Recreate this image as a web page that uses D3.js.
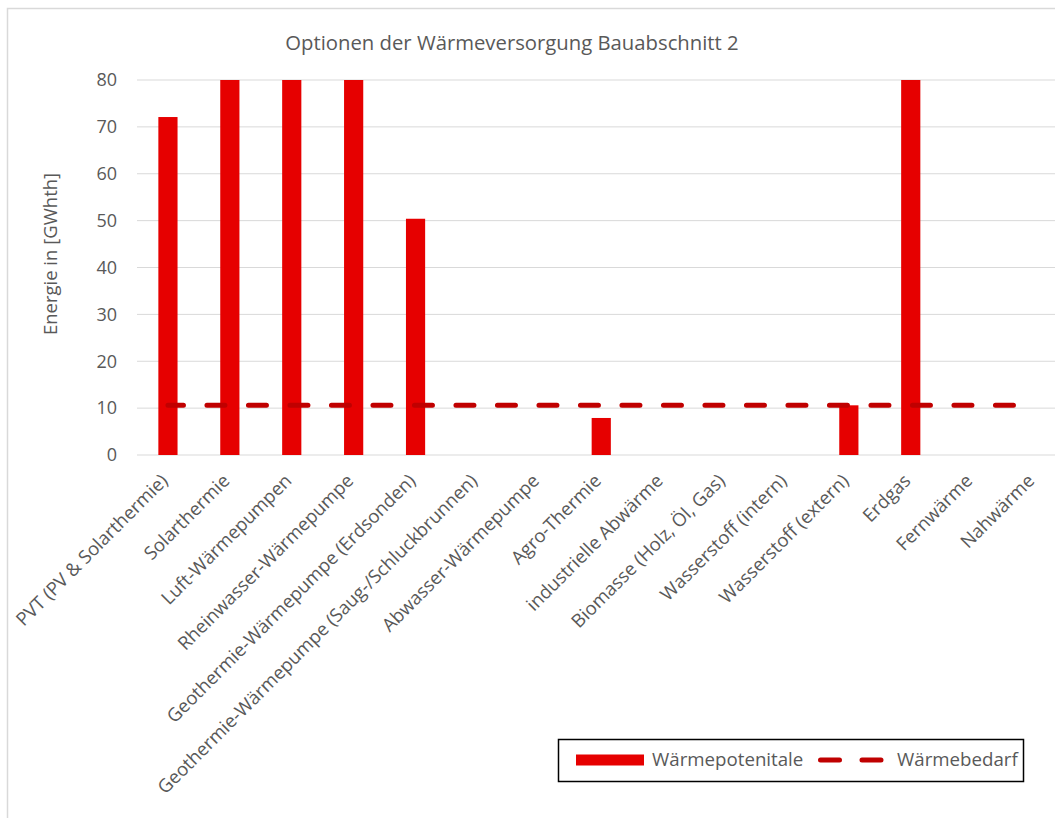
<!DOCTYPE html>
<html>
<head>
<meta charset="utf-8">
<script src="https://cdn.jsdelivr.net/npm/d3@7"></script>
<style>
  body { margin: 0; background: #fff; }
  svg { display: block; font-family: "Open Sans", sans-serif; }
</style>
</head>
<body>
<div class="chart"></div>
<script>
// Chart data
const categories = [
    'PVT (PV & Solarthermie)', 'Solarthermie', 'Luft-Wärmepumpen', 'Rheinwasser-Wärmepumpe',
    'Geothermie-Wärmepumpe (Erdsonden)', 'Geothermie-Wärmepumpe (Saug-/Schluckbrunnen)',
    'Abwasser-Wärmepumpe', 'Agro-Thermie', 'industrielle Abwärme', 'Biomasse (Holz, Öl, Gas)',
    'Wasserstoff (intern)', 'Wasserstoff (extern)', 'Erdgas', 'Fernwärme', 'Nahwärme'
];
const potentials = [72.1, 80, 80, 80, 50.4, 0, 0, 7.9, 0, 0, 0, 10.6, 80, 0, 0];
const demand = [10.6, 10.6, 10.6, 10.6, 10.6, 10.6, 10.6, 10.6, 10.6, 10.6, 10.6, 10.6, 10.6, 10.6, 10.6];
const yTicks = [0, 10, 20, 30, 40, 50, 60, 70, 80];
const seriesNames = ['Wärmepotenitale', 'Wärmebedarf'];

const W = 1055, H = 818;
const margin = {top: 80, left: 137, bottom: 363};
const step = 61.9;
const plotW = step * categories.length;
const plotH = H - margin.top - margin.bottom;

const textColor = '#595959';
const barColor = '#e60000';
const lineColor = '#c00000';

const svg = d3.select('.chart')
            .append('svg')
                .attr('width', W)
                .attr('height', H);

// Outer chart frame
svg.append('rect')
    .attr('x', 7.5).attr('y', 8.5)
    .attr('width', W + 20).attr('height', H + 20)
    .attr('fill', 'none')
    .attr('stroke', '#d9d9d9')
    .attr('stroke-width', 1.5);

const g = svg.append('g')
    .attr('transform', `translate(${margin.left},${margin.top})`);

// Scales
const x = d3.scaleBand()
            .domain(categories)
            .range([0, plotW])
            .paddingInner(0.69)
            .paddingOuter(0.345);
const y = d3.scaleLinear()
            .domain([0, 80])
            .range([plotH, 0]);

// Gridlines
g.append('g')
    .selectAll('line')
    .data(yTicks)
    .enter()
        .append('line')
        .attr('x1', 0).attr('x2', plotW)
        .attr('y1', d => y(d)).attr('y2', d => y(d))
        .attr('stroke', '#d9d9d9')
        .attr('stroke-width', 1);

// Y axis labels
const yAxis = g.append('g')
    .call(d3.axisLeft(y).tickValues(yTicks).tickSize(0).tickPadding(20));
yAxis.select('.domain').remove();
yAxis.selectAll('text')
    .attr('fill', textColor)
    .style('font-size', '18px')
    .style('font-family', '"Open Sans", sans-serif');

// Bars
g.selectAll('rect.bar')
    .data(potentials)
    .enter()
        .append('rect')
        .attr('class', 'bar')
        .attr('x', (d, i) => x(categories[i]))
        .attr('width', x.bandwidth())
        .attr('y', d => y(d))
        .attr('height', d => plotH - y(d))
        .attr('fill', barColor);

// Demand line
const line = d3.line()
    .x((d, i) => x(categories[i]) + x.bandwidth() / 2)
    .y(d => y(d));
g.append('path')
    .datum(demand)
    .attr('d', line)
    .attr('fill', 'none')
    .attr('stroke', lineColor)
    .attr('stroke-width', 5)
    .attr('stroke-linecap', 'round')
    .attr('stroke-dasharray', '18,23.5')
    .attr('stroke-dashoffset', 2.5);

// Category labels, rotated
g.append('g')
    .selectAll('text')
    .data(categories)
    .enter()
        .append('text')
        .attr('transform', d => `translate(${x(d) + x.bandwidth() / 2 + 1}, ${plotH + 27}) rotate(-45)`)
        .attr('text-anchor', 'end')
        .attr('fill', textColor)
        .style('font-size', '18.5px')
        .text(d => d);

// Title
svg.append('text')
    .attr('x', 512).attr('y', 50)
    .attr('text-anchor', 'middle')
    .attr('fill', textColor)
    .style('font-size', '20.3px')
    .text('Optionen der Wärmeversorgung Bauabschnitt 2');

// Y axis title
svg.append('text')
    .attr('transform', 'translate(57, 254) rotate(-90)')
    .attr('text-anchor', 'middle')
    .attr('fill', textColor)
    .style('font-size', '18.5px')
    .text('Energie in [GWhth]');

// Legend
const legend = svg.append('g');
legend.append('rect')
    .attr('x', 558.5).attr('y', 739.5)
    .attr('width', 465).attr('height', 42)
    .attr('fill', '#fff')
    .attr('stroke', '#000')
    .attr('stroke-width', 1.5);
legend.append('rect')
    .attr('x', 576).attr('y', 754.5)
    .attr('width', 68).attr('height', 11)
    .attr('fill', barColor);
legend.append('text')
    .attr('x', 652).attr('y', 766)
    .attr('fill', textColor)
    .style('font-size', '18.7px')
    .text(seriesNames[0]);
legend.append('line')
    .attr('x1', 820.5).attr('x2', 883)
    .attr('y1', 760).attr('y2', 760)
    .attr('stroke', lineColor)
    .attr('stroke-width', 5)
    .attr('stroke-linecap', 'round')
    .attr('stroke-dasharray', '19,22.5');
legend.append('text')
    .attr('x', 897).attr('y', 766)
    .attr('fill', textColor)
    .style('font-size', '18.7px')
    .text(seriesNames[1]);
</script>
</body>
</html>
